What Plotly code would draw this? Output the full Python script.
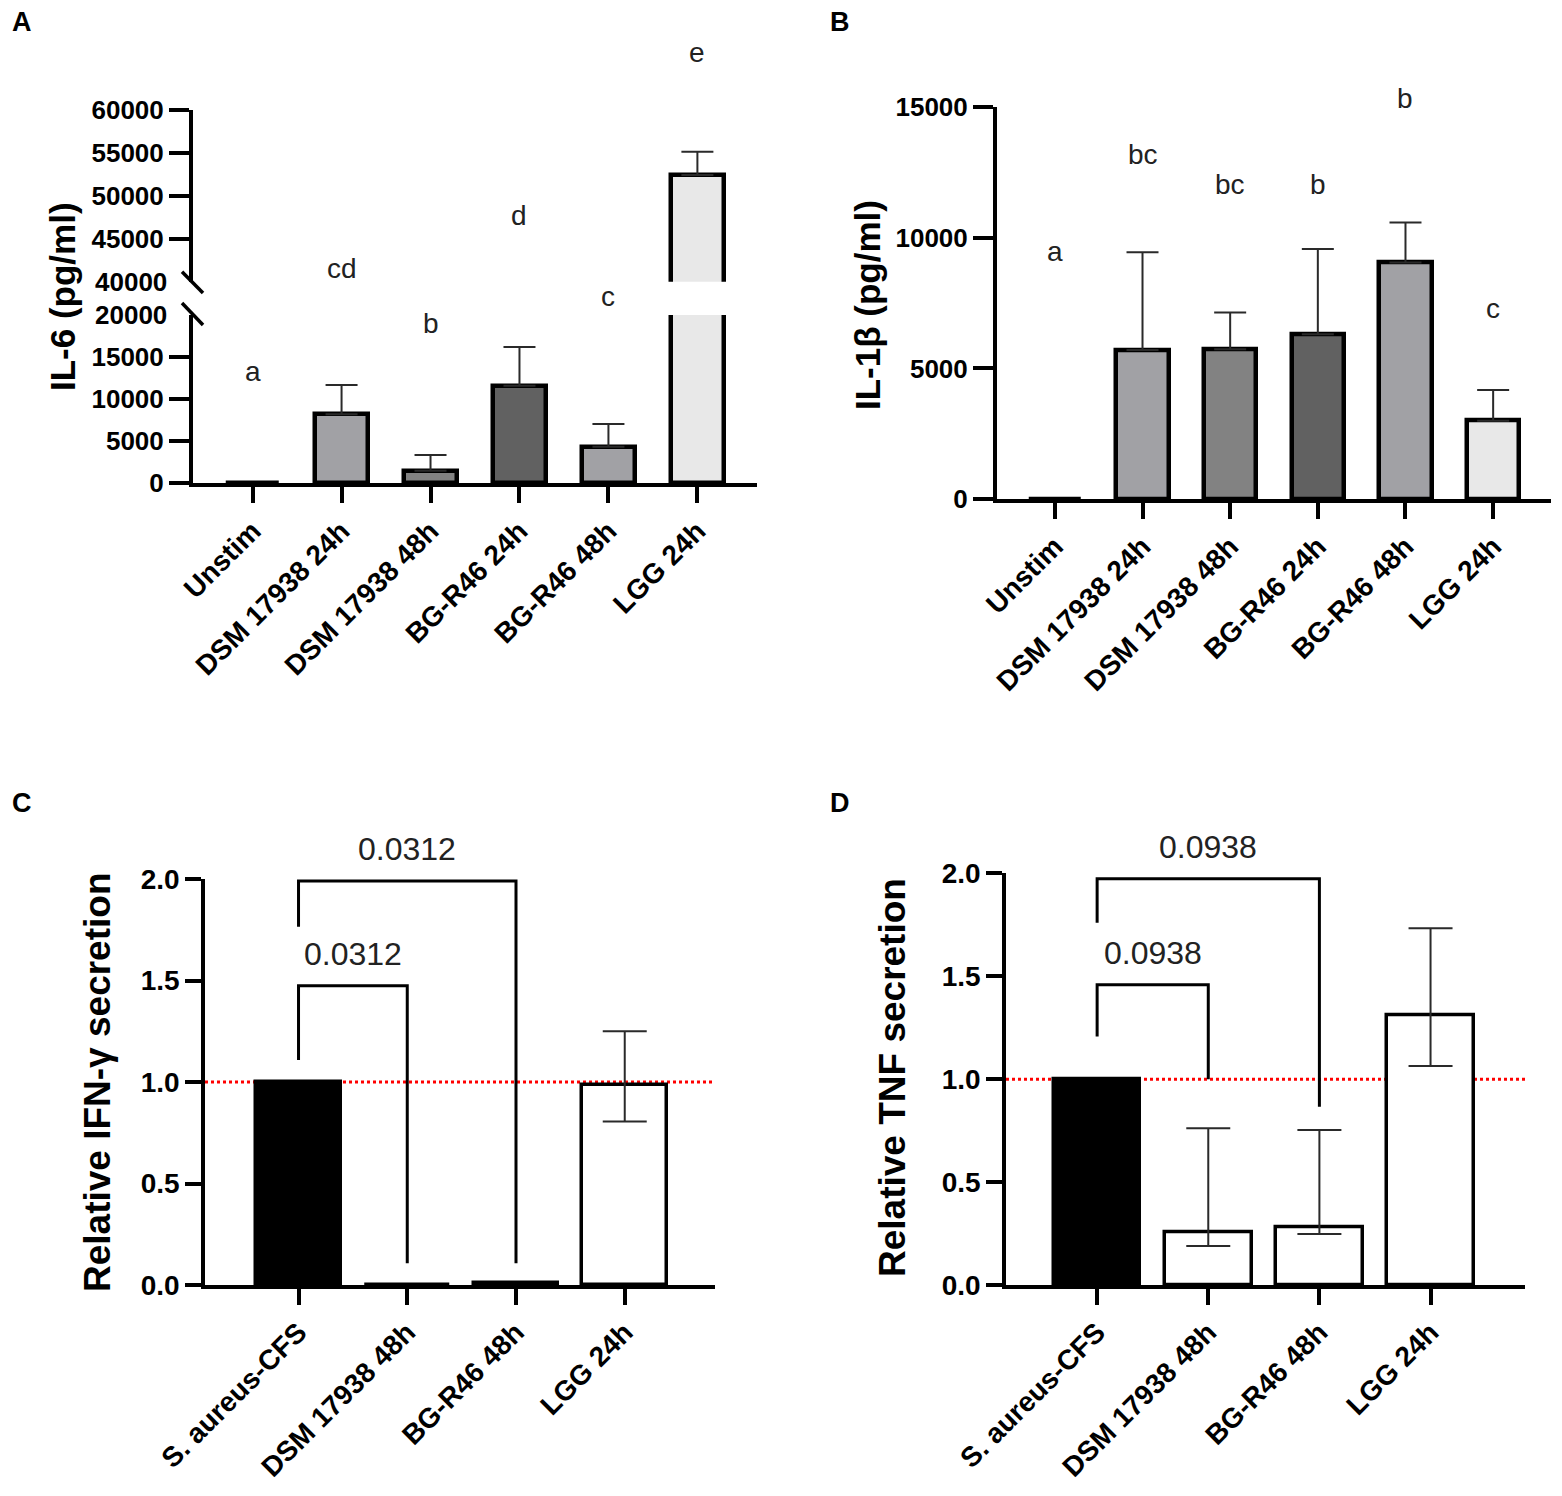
import plotly.graph_objects as go

# figure size in px, margins are zero so paper fractions map straight onto pixels
# (the page adds an 8px body margin, so positions are measured 8px back)
W, H = 1562, 1496
OFF = 8
FONT = "Liberation Sans, Arial, sans-serif"


def px_x(v):
    return (v - OFF) / W


def px_y(v):
    return 1 - (v - OFF) / H


# ---- data ----
# panel A: IL-6 (pg/ml)
A_cats = ["Unstim", "DSM 17938 24h", "DSM 17938 48h", "BG-R46 24h", "BG-R46 48h", "LGG 24h"]
A_il6 = [0, 8200, 1500, 11600, 4350, 52430]
A_il6_err = [0, 3470, 1860, 4600, 2700, 2720]
A_letters = ["a", "cd", "b", "d", "c", "e"]

# panel B: IL-1beta (pg/ml)
B_cats = A_cats
B_il1b = [0, 5710, 5735, 6310, 9055, 3000]
B_il1b_err = [0, 3740, 1405, 3260, 1535, 1175]
B_letters = ["a", "bc", "bc", "b", "b", "c"]

# panels C and D: relative secretion
CD_cats = ["S. aureus-CFS", "DSM 17938 48h", "BG-R46 48h", "LGG 24h"]
C_ifng = [1.0, 0.0, 0.012, 0.983]
C_err_up = [0, 0, 0, 0.267]
C_err_down = [0, 0, 0, 0.177]
C_brackets = [(0, 1, 1.108, 1.474, 0.107, "0.0312"),
              (0, 2, 1.765, 1.99, 0.107, "0.0312")]

D_tnf = [1.0, 0.254, 0.278, 1.309]
D_err_up = [0, 0.507, 0.475, 0.424]
D_err_down = [0, 0.064, 0.030, 0.245]
D_brackets = [(0, 1, 1.207, 1.458, 1.0, "0.0938"),
              (0, 2, 1.76, 1.974, 0.866, "0.0938")]

# ---- styling ----
grey_fills = ["#ffffff", "#a1a1a5", "#828282", "#616161", "#a1a1a5", "#e8e8e8"]
cd_fills = ["#000000", "#ffffff", "#ffffff", "#ffffff"]
A_letter_y = [372, 269, 323, 215, 297, 52]
B_letter_y = [252, 154, 184, 184, 98, 308]

fig = go.Figure()


def add_bars(vals, up, down, fills, xa, ya, width, lw, cap):
    fig.add_trace(go.Bar(
        x=list(range(len(vals))), y=vals, width=width,
        marker=dict(color=fills, line=dict(color="black", width=lw)),
        xaxis=xa, yaxis=ya, showlegend=False, hoverinfo="x+y"))
    # error bars only where there is a spread
    idx = [i for i, e in enumerate(up) if e]
    fig.add_trace(go.Scatter(
        x=idx, y=[vals[i] for i in idx], mode="markers",
        marker=dict(size=1, opacity=0),
        error_y=dict(type="data", symmetric=False,
                     array=[up[i] for i in idx],
                     arrayminus=[down[i] for i in idx] if down else [0] * len(idx),
                     color="#2a2a2a", thickness=2, width=cap),
        xaxis=xa, yaxis=ya, showlegend=False, hoverinfo="skip"))


# panel A is drawn twice: lower and upper part of the broken axis
add_bars(A_il6, A_il6_err, None, grey_fills, "x", "y", 0.6, 4.5, 16)
add_bars(A_il6, A_il6_err, None, grey_fills, "x", "y2", 0.6, 4.5, 16)
add_bars(B_il1b, B_il1b_err, None, grey_fills, "x2", "y3", 0.6, 4.5, 16)
add_bars(C_ifng, C_err_up, C_err_down, cd_fills, "x3", "y4", 0.78, 3.5, 22)
add_bars(D_tnf, D_err_up, D_err_down, cd_fills, "x4", "y5", 0.78, 3.5, 22)


def xax(x0, x1, rng, labels, anchor, lw):
    return dict(domain=[px_x(x0), px_x(x1)], range=rng, anchor=anchor, automargin=False,
                tickmode="array", tickvals=list(range(len(labels))), ticktext=labels,
                tickangle=-45, showline=True, linecolor="black", linewidth=lw,
                ticks="outside", ticklen=16, tickwidth=lw, tickcolor="black",
                showgrid=False, zeroline=False, fixedrange=True,
                tickfont=dict(family=FONT, size=28, color="black", weight="bold"))


def yax(y0, y1, rng, tickvals, anchor, fmt, ticklen, size, lw):
    return dict(domain=[px_y(y0), px_y(y1)], range=rng, anchor=anchor, automargin=False,
                tickmode="array", tickvals=tickvals, tickformat=fmt,
                showline=True, linecolor="black", linewidth=lw,
                ticks="outside", ticklen=ticklen, tickwidth=lw, tickcolor="black",
                showgrid=False, zeroline=False, fixedrange=True,
                tickfont=dict(family=FONT, size=size, color="black", weight="bold"))


fig.update_layout(
    width=W, height=H, autosize=False,
    margin=dict(l=0, r=0, t=0, b=0, pad=0),
    paper_bgcolor="white", plot_bgcolor="rgba(0,0,0,0)",
    bargap=0, barmode="overlay",
    xaxis=xax(193, 757, [-0.67, 5.67], A_cats, "y", 4),
    yaxis=yax(483.3, 315, [0, 20000], [0, 5000, 10000, 15000], "x", "d", 20, 26, 4),
    yaxis2=yax(281.7, 110, [40000, 60000], [45000, 50000, 55000, 60000], "x", "d", 20, 26, 4),
    xaxis2=xax(997, 1551, [-0.66, 5.66], B_cats, "y3", 4),
    yaxis3=yax(499, 107.3, [0, 15000], [0, 5000, 10000, 15000], "x2", "d", 20, 26, 4),
    xaxis3=xax(205, 715, [-0.86, 3.83], CD_cats, "y4", 3.5),
    yaxis4=yax(1285, 879, [0, 2], [0, 0.5, 1.0, 1.5, 2.0], "x3", ".1f", 16, 28, 3.5),
    xaxis4=xax(1006, 1525, [-0.82, 3.85], CD_cats, "y5", 3.5),
    yaxis5=yax(1285, 873.3, [0, 2], [0, 0.5, 1.0, 1.5, 2.0], "x4", ".1f", 16, 28, 3.5),
)

shapes = []
annotations = []

# break marks on the IL-6 axis, with the two break values labelled but not ticked
for y0, y1 in [(271.7, 293), (303, 325)]:
    shapes.append(dict(type="line", xref="paper", yref="paper",
                       x0=px_x(182), x1=px_x(203), y0=px_y(y0), y1=px_y(y1),
                       line=dict(color="black", width=3.5)))
for ya, val in [("y", 20000), ("y2", 40000)]:
    annotations.append(dict(xref="x domain", yref=ya, x=0, y=val, text=f"{val}",
                            showarrow=False, xanchor="right", yanchor="middle", xshift=-24,
                            font=dict(family=FONT, size=26, color="black", weight="bold")))

# reference line at 1.0 and the comparison brackets
for xa, ya, brackets in [("x3", "y4", C_brackets), ("x4", "y5", D_brackets)]:
    shapes.append(dict(type="line", xref=xa + " domain", yref=ya, x0=0, x1=1, y0=1, y1=1,
                       layer="below", line=dict(color="red", width=3, dash="dot")))
    for i0, i1, yl, top, yr, label in brackets:
        shapes.append(dict(type="path", xref=xa, yref=ya,
                           path=f"M {i0},{yl} L {i0},{top} L {i1},{top} L {i1},{yr}",
                           line=dict(color="black", width=3)))
        annotations.append(dict(xref=xa, yref=ya, x=(i0 + i1) / 2, y=top, text=label,
                                showarrow=False, yanchor="bottom", yshift=12,
                                font=dict(family=FONT, size=32, color="#222222")))

# group letters above the bars
for xa, letters, ys in [("x", A_letters, A_letter_y), ("x2", B_letters, B_letter_y)]:
    for i, (t, yp) in enumerate(zip(letters, ys)):
        annotations.append(dict(xref=xa, yref="paper", x=i, y=px_y(yp), text=t,
                                showarrow=False, yanchor="middle",
                                font=dict(family=FONT, size=28, color="#222222")))

# panel letters
for t, xp, yp in [("A", 10, 22), ("B", 828, 22), ("C", 10, 803), ("D", 828, 803)]:
    annotations.append(dict(xref="paper", yref="paper", x=px_x(xp), y=px_y(yp), text=t,
                            showarrow=False, xanchor="left", yanchor="middle",
                            font=dict(family=FONT, size=27, color="black", weight="bold")))

# y axis titles
for t, xp, yp, size in [("IL-6 (pg/ml)", 63, 297, 35),
                        ("IL-1β (pg/ml)", 868, 305, 35),
                        ("Relative IFN-γ secretion", 97, 1083, 37),
                        ("Relative TNF secretion", 892, 1078, 37)]:
    annotations.append(dict(xref="paper", yref="paper", x=px_x(xp), y=px_y(yp), text=t,
                            showarrow=False, textangle=-90, xanchor="center", yanchor="middle",
                            font=dict(family=FONT, size=size, color="black", weight="bold")))

fig.update_layout(shapes=shapes, annotations=annotations)

fig.write_html("out.html")
